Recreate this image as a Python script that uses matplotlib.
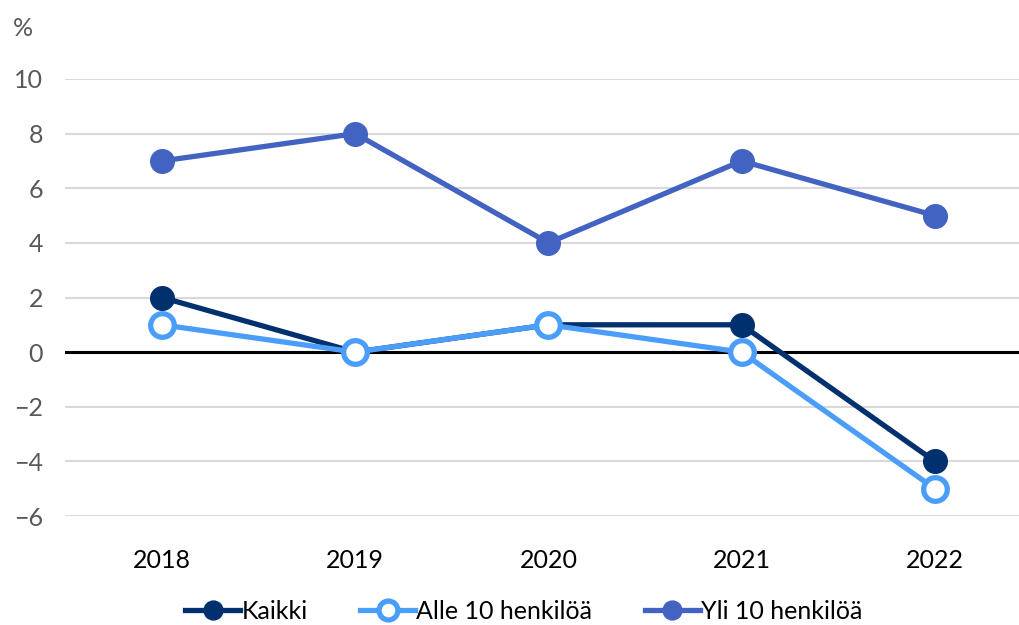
import matplotlib

matplotlib.use("Agg")

import matplotlib.pyplot as plt

vuodet = ["2018", "2019", "2020", "2021", "2022"]
kaikki = [2, 0, 1, 1, -4]
alle_10 = [1, 0, 1, 0, -5]
yli_10 = [7, 8, 4, 7, 5]
y_ticks = [-6, -4, -2, 0, 2, 4, 6, 8, 10]

plt.rcParams["font.family"] = ["Lato", "DejaVu Sans"]

fig = plt.figure(figsize=(10.19, 6.25), dpi=100)
# akseli jatkuu hieman kuvan oikean reunan yli, kuten alkuperäisessä
ax = fig.add_axes([0.0642, 0.1744, 0.948, 0.6992])

x = list(range(len(vuodet)))
ax.plot(x, kaikki, color="#00306E", lw=3.8, marker="o", ms=17,
        mfc="#00306E", mec="#00306E", label="Kaikki", zorder=4)
ax.plot(x, alle_10, color="#4A9EFA", lw=3.8, marker="o", ms=17,
        mfc="white", mec="#4A9EFA", mew=3.8, label="Alle 10 henkilöä", zorder=5)
ax.plot(x, yli_10, color="#4363C3", lw=3.8, marker="o", ms=17,
        mfc="#4363C3", mec="#4363C3", label="Yli 10 henkilöä", zorder=4)

ax.axhline(0, color="black", lw=2.2, zorder=3)

ax.set_xlim(-0.5, len(vuodet) - 0.5)
ax.set_ylim(-6, 10)
ax.set_yticks(y_ticks)
ax.set_yticklabels([str(t).replace("-", "\u2212") for t in y_ticks])
ax.set_xticks(x)
ax.set_xticklabels(vuodet)
ax.grid(axis="y", color="#D9D9D9", lw=1.5, zorder=0)
ax.tick_params(axis="y", length=0, labelsize=18, labelcolor="#595959", pad=16)
ax.tick_params(axis="x", length=0, labelsize=18, labelcolor="black", pad=24)
for s in ax.spines.values():
    s.set_visible(False)

fig.text(0.023, 0.955, "%", fontsize=18, color="#595959", va="center", ha="center")

fig.legend(loc="center", bbox_to_anchor=(0.514, 0.022), ncol=3, frameon=False,
           fontsize=18, handlelength=2.2, handletextpad=0.05, columnspacing=2.1,
           markerscale=0.8)

fig.savefig("out.png", dpi=100)
